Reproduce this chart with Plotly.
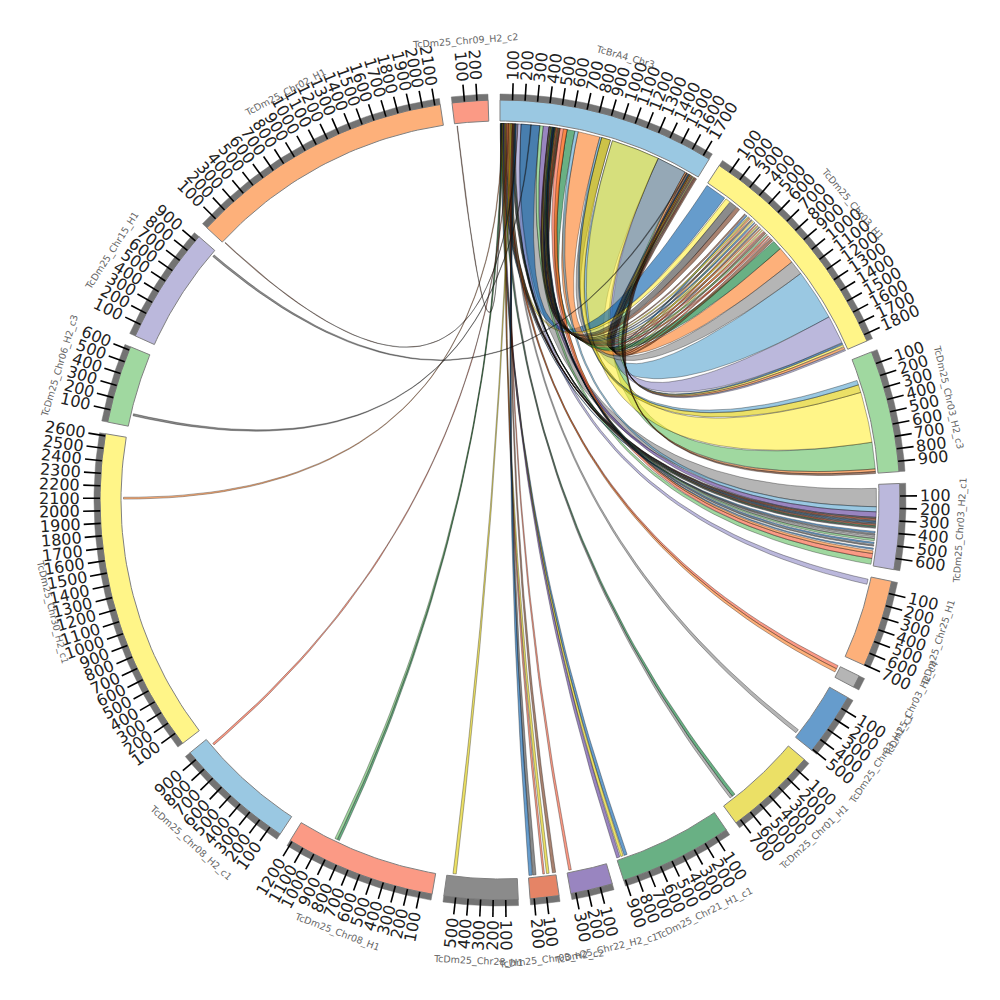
import numpy as np
import plotly.graph_objects as go

# ---- sectors, clockwise from 12 o'clock ----
sector_names = ["TcBrA4_Chr3", "TcDm25_Chr03_H1", "TcDm25_Chr03_H2_c3", "TcDm25_Chr03_H2_c1", "TcDm25_Chr25_H1",
                "TcDm25_Chr03_H2_c4", "TcDm25_Chr03_H1_c1", "TcDm25_Chr01_H1", "TcDm25_Chr21_H1_c1", "TcDm25_Chr22_H2_c1",
                "TcDm25_Chr03_H2_c2", "TcDm25_Chr28_H1", "TcDm25_Chr08_H1", "TcDm25_Chr08_H2_c1", "TcDm25_Chr30_H2_c1",
                "TcDm25_Chr06_H2_c3", "TcDm25_Chr15_H1", "TcDm25_Chr02_H1", "TcDm25_Chr09_H2_c2"]
sector_lengths = [1755, 1855, 983, 690, 705, 100, 510, 745, 915, 340, 233, 595, 1217, 972, 2617, 628, 944, 2144, 289]
sector_colors = ["lb", "ye", "gr", "li", "or", "gy", "bl", "dy", "dg", "pu", "ro", "dk", "sa", "lb", "ye", "gr", "li", "or", "sa"]
sector_ticks = [1700, 1800, 900, 600, 700, 0, 500, 700, 900, 300, 200, 500, 1200, 900, 2600, 600, 900, 2100, 200]

palette = {"lb": "87,163,207", "ye": "255,238,57", "gr": "97,190,97", "li": "142,137,197", "or": "252,123,33",
           "gy": "132,132,132", "bl": "0,90,170", "dy": "222,203,0", "dg": "5,123,50", "pu": "85,52,150",
           "ro": "212,50,0", "dk": "62,62,62", "sa": "248,87,52", "br": "110,47,16"}

# ---- links: every one leaves the first sector (src) and lands on rib_target ----
rib_src0 = [178, 967, 1383, 1383, 967, 178, 667, 872, 872, 856, 572, 639, 367, 339, 511, 139, 60, 417, 470, 540,
            1639, 1655, 1670, 1676, 1684, 1690,
            417, 1672, 430, 1682, 443, 1692, 455, 1702, 466, 1710, 477, 1718, 488, 1726, 497, 1734, 505, 1742,
            8, 18, 105, 28, 115, 38, 122, 48, 1, 130, 420, 435, 445, 455, 462,
            60, 72, 86, 20, 32, 6, 16, 26, 100, 108, 40, 50, 120, 130, 90, 10, 18, 70, 16, 260, 1650, 150, 6]
rib_src1 = [339, 1383, 1639, 1639, 1383, 339, 856, 950, 950, 872, 639, 667, 417, 367, 572, 178, 105, 470, 511, 572,
            1655, 1668, 1676, 1684, 1690, 1698,
            427, 1680, 440, 1690, 452, 1700, 463, 1708, 474, 1716, 485, 1724, 494, 1732, 503, 1740, 510, 1752,
            14, 24, 112, 34, 120, 44, 128, 54, 7, 136, 430, 442, 452, 460, 468,
            72, 85, 100, 32, 44, 16, 26, 36, 108, 120, 50, 58, 130, 138, 100, 18, 26, 76, 22, 266, 1658, 153, 9]
rib_target = [3, 1, 2, 1, 2, 1, 1, 1, 2, 2, 1, 3, 3, 3, 3, 4, 1, 1, 1, 3,
              2, 2, 1, 1, 1, 1,
              1, 1, 1, 1, 1, 1, 1, 1, 1, 1, 1, 1, 1, 1, 1, 1, 1, 1,
              3, 3, 3, 3, 3, 3, 3, 3, 3, 3, 3, 3, 3, 3, 3,
              5, 5, 6, 7, 7, 8, 8, 8, 9, 10, 10, 10, 10, 10, 11, 12, 12, 13, 14, 15, 16, 17, 18]
rib_tgt0 = [33, 1100, 718, 1540, 285, 6, 828, 978, 218, 179, 740, 189, 232, 629, 587, 23, 200, 245, 312, 563,
            946, 968, 1784, 1800, 1820, 1842,
            400, 419, 438, 457, 474, 492, 510, 528, 546, 564, 582, 600, 618, 636, 654, 672, 690, 708,
            279, 291, 303, 315, 327, 339, 351, 362, 398, 418, 440, 460, 490, 512, 540,
            0, 30, 445, 608, 636, 815, 848, 880, 300, 0, 50, 90, 165, 195, 517, 861, 882, 895, 2094, 94, 894, 10, 17]
rib_tgt1 = [189, 1540, 946, 1784, 718, 190, 978, 1100, 285, 218, 828, 232, 279, 679, 629, 67, 245, 312, 350, 587,
            968, 985, 1800, 1820, 1842, 1858,
            414, 433, 452, 470, 488, 506, 524, 542, 560, 578, 596, 614, 632, 650, 668, 686, 704, 736,
            290, 302, 314, 326, 338, 350, 361, 372, 412, 432, 458, 478, 504, 524, 552,
            30, 60, 478, 636, 660, 845, 875, 912, 322, 28, 78, 110, 195, 228, 545, 880, 903, 912, 2110, 112, 912, 16, 23]
rib_color = ["gy", "lb", "gr", "li", "ye", "bl", "or", "gy", "dy", "lb", "dg", "lb", "pu", "gr", "sa", "li", "ye", "dk", "br", "or",
             "or", "br", "bl", "ye", "or", "li",
             "br", "bl", "dy", "or", "dk", "ye", "bl", "ro", "dy", "dk", "or", "ye", "sa", "br", "gr", "ro", "sa", "br",
             "dk", "ro", "dk", "bl", "dk", "ro", "dg", "dk", "bl", "dk", "gy", "gr", "bl", "dk", "bl",
             "sa", "or", "gy", "dg", "gy", "bl", "dy", "pu", "sa", "br", "dy", "sa", "dk", "bl", "dy", "dg", "gr", "sa", "or", "dk", "dk", "br", "br"]

ALPHA = 0.6
TICK_FONT = 16
R_LINK, R_IN, R_OUT, R_BAND, R_TICK, R_TXT, R_NAME = 376.5, 379, 400, 406, 417, 420, 461
GAP = 1.7
scale = (360 - GAP * len(sector_lengths)) / sum(sector_lengths)
starts, cur = [], 0.0
for L in sector_lengths:
    starts.append(cur)
    cur += L * scale + GAP


def ang(sec, pos):
    return starts[sec] + pos * scale


def pol(theta, r):
    t = np.radians(theta)
    return r * np.sin(t), r * np.cos(t)


def arc(t0, t1, r, n=40):
    return pol(np.linspace(t0, t1, n), r)


def bez(t0, t1, n=50):
    p0, p2 = np.array(pol(t0, R_LINK)), np.array(pol(t1, R_LINK))
    u = np.linspace(0, 1, n)
    return (1 - u) ** 2 * p0[0] + u ** 2 * p2[0], (1 - u) ** 2 * p0[1] + u ** 2 * p2[1]


fig = go.Figure()


def poly(parts, fill, line, width):
    x = np.concatenate([p[0] for p in parts] + [parts[0][0][:1]])
    y = np.concatenate([p[1] for p in parts] + [parts[0][1][:1]])
    fig.add_trace(go.Scatter(x=x, y=y, mode="lines", fill="toself", fillcolor=fill,
                             line=dict(color=line, width=width), hoverinfo="skip", showlegend=False))


# links
for s0, s1, tg, t0, t1, c in zip(rib_src0, rib_src1, rib_target, rib_tgt0, rib_tgt1, rib_color):
    a, b, d0, d1 = ang(0, s0), ang(0, s1), ang(tg, t0), ang(tg, t1)
    poly([arc(a, b, R_LINK, 15), bez(b, d0), arc(d0, d1, R_LINK, 15), bez(d1, a)],
         f"rgba({palette[c]},{ALPHA})", "rgba(0,0,0,0.7)", 0.45)

# sectors, bands
for i, L in enumerate(sector_lengths):
    a, b = ang(i, 0), ang(i, L)
    poly([arc(a, b, R_OUT), arc(b, a, R_IN)], f"rgba({palette[sector_colors[i]]},{ALPHA})", "#808080", 1)
    poly([arc(a, b, R_BAND), arc(b, a, R_OUT)], "#737373", "#737373", 0.5)

# ticks
tx, ty, ann = [], [], []
for i, top in enumerate(sector_ticks):
    for v in range(100, top + 1, 100):
        th = ang(i, v)
        x0, y0 = pol(th, R_OUT)
        x1, y1 = pol(th, R_TICK)
        tx += [x0, x1, None]
        ty += [y0, y1, None]
        label = str(v)
        w = len(label) * 0.636 * TICK_FONT
        cx, cy = pol(th, R_TXT + w / 2)
        rot = th - 90 if th <= 180 else th + 90 - 360
        ann.append(dict(x=cx, y=cy, text=label, showarrow=False, xanchor="center", yanchor="middle",
                        textangle=rot, font=dict(family="DejaVu Sans", size=TICK_FONT, color="#222222")))
fig.add_trace(go.Scatter(x=tx, y=ty, mode="lines", line=dict(color="black", width=1.6),
                         hoverinfo="skip", showlegend=False))

# sector names
for i, name in enumerate(sector_names):
    th = ang(i, sector_lengths[i] / 2)
    cx, cy = pol(th, R_NAME)
    if th <= 90:
        rot = th
    elif th <= 270:
        rot = th - 180
    else:
        rot = th - 360
    ann.append(dict(x=cx, y=cy, text=name, showarrow=False, xanchor="center", yanchor="middle",
                    textangle=rot, font=dict(family="DejaVu Sans", size=9.5, color="#666666")))

fig.update_layout(width=1000, height=1000, autosize=False, margin=dict(l=0, r=0, t=0, b=0),
                  paper_bgcolor="white", plot_bgcolor="white", showlegend=False, annotations=ann,
                  xaxis=dict(range=[-500, 500], visible=False, fixedrange=True),
                  yaxis=dict(range=[-500, 500], visible=False, fixedrange=True))
fig.write_html("out.html", config={"displayModeBar": False}, post_script="document.body.style.margin='0';")
